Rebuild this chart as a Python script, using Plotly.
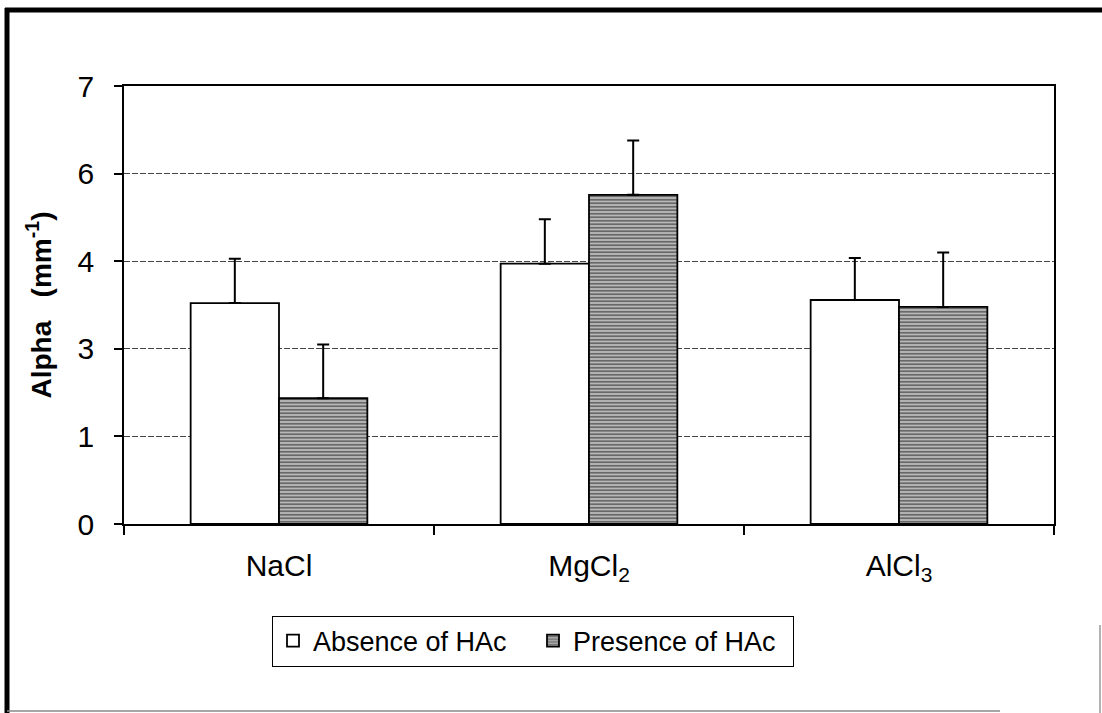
import plotly.graph_objects as go

# Salts tested
salts = ["NaCl", "MgCl<sub>2</sub>", "AlCl<sub>3</sub>"]

# Alpha (mm^-1) without and with acetic acid, with upper error values
alpha_absence = [3.53, 4.16, 3.58]
err_absence = [0.71, 0.71, 0.67]
alpha_presence = [2.01, 5.26, 3.47]
err_presence = [0.86, 0.87, 0.87]

series_names = ["Absence of HAc", "Presence of HAc"]

FONT = "Arial, Liberation Sans, sans-serif"

# plot-area geometry in pixels (used to place the outer frame)
W, H = 1102, 713
L, R, T, B = 124, 48, 86, 189
PW, PH = W - L - R, H - T - B


def px(x):
    return (x - L) / PW


def py(y):
    return (H - B - y) / PH


fig = go.Figure()

fig.add_trace(go.Bar(
    x=salts, y=alpha_absence, name=series_names[0],
    marker=dict(color="white", line=dict(color="black", width=1.8)),
    error_y=dict(type="data", symmetric=False, array=err_absence,
                 arrayminus=[0] * len(err_absence),
                 color="black", thickness=2, width=6),
))

fig.add_trace(go.Bar(
    x=salts, y=alpha_presence, name=series_names[1],
    marker=dict(color="#9a9a9a", line=dict(color="black", width=1.8),
                pattern=dict(shape="-", fgcolor="#1a1a1a", bgcolor="#b8b8b8",
                             size=3.5, solidity=0.5)),
    error_y=dict(type="data", symmetric=False, array=err_presence,
                 arrayminus=[0] * len(err_presence),
                 color="black", thickness=2, width=6),
))

shapes = [
    # heavy page frame: left and top edges
    dict(type="line", xref="paper", yref="paper",
         x0=px(7), x1=px(7), y0=py(8), y1=py(713),
         line=dict(color="black", width=5)),
    dict(type="line", xref="paper", yref="paper",
         x0=px(5), x1=px(1102), y0=py(10), y1=py(10),
         line=dict(color="black", width=5)),
    # faint bottom and right edges
    dict(type="line", xref="paper", yref="paper",
         x0=px(7), x1=px(1000), y0=py(711), y1=py(711),
         line=dict(color="#888888", width=1.5)),
    dict(type="line", xref="paper", yref="paper",
         x0=px(1100), x1=px(1100), y0=py(625), y1=py(713),
         line=dict(color="#999999", width=1.5)),
]

fig.update_layout(
    width=W, height=H,
    margin=dict(l=L, r=R, t=T, b=B),
    paper_bgcolor="white", plot_bgcolor="white",
    font=dict(family=FONT, size=30, color="black"),
    barmode="group", bargap=0.43, bargroupgap=0,
    showlegend=True,
    legend=dict(orientation="h", x=px(533), y=py(641),
                xanchor="center", yanchor="middle",
                bordercolor="black", borderwidth=1,
                font=dict(family=FONT, size=27, color="black"),
                itemwidth=30, entrywidth=215, traceorder="normal"),
    shapes=shapes,
)

fig.update_xaxes(
    showline=True, linecolor="black", linewidth=1.5, mirror=True,
    ticks="outside", tickson="boundaries", ticklen=9, tickcolor="black",
    tickwidth=1.5, ticklabelstandoff=14,
    tickfont=dict(family=FONT, size=30, color="black"),
    showgrid=False,
)

fig.update_yaxes(
    range=[0, 7], tick0=0, dtick=1.4, tickformat=".0f",
    showline=True, linecolor="black", linewidth=1.5, mirror=True,
    ticks="outside", ticklen=8, tickcolor="black", tickwidth=1.5,
    ticklabelstandoff=14,
    tickfont=dict(family=FONT, size=30, color="black"),
    showgrid=True, gridcolor="#444444", gridwidth=1, griddash="6px,2px",
    zeroline=False,
    title=dict(text="<b>Alpha&nbsp;&nbsp;&nbsp;(mm<sup>-1</sup>)</b>",
               font=dict(family=FONT, size=28, color="black"), standoff=18),
)

fig.write_html("out.html")
